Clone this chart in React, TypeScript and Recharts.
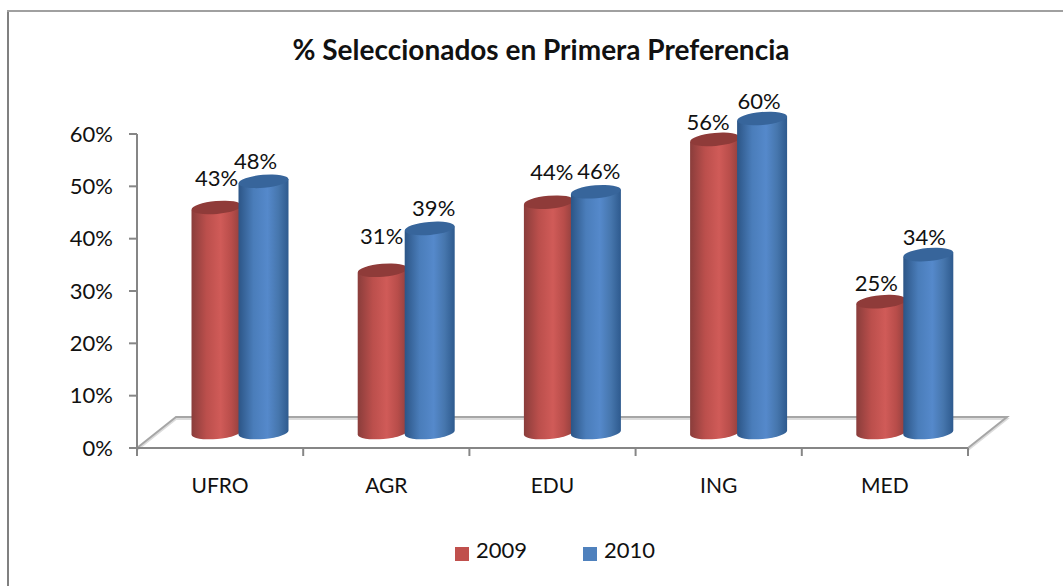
import { BarChart, Bar, XAxis, YAxis, Legend, LabelList, Customized } from "recharts";

const categories = ["UFRO", "AGR", "EDU", "ING", "MED"];
const values2009 = [43, 31, 44, 56, 25];
const values2010 = [48, 39, 46, 60, 34];
const yTicks = [0, 10, 20, 30, 40, 50, 60];

// hand nudges for the data labels, the source places them unevenly
const labelNudge2009 = [[0, -21], [-1, -26], [3, -22], [-7, -9], [-5, -11]];
const labelNudge2010 = [[-8, -12], [4, -12], [3, -13], [-3, -10], [-4, -10]];

const W = 1063;
const H = 586;
const LEFT = 137;
const RIGHT = 968;
const TOP = 134;
const BOTTOM = 448;
const DEPTH_X = 39;
const DEPTH_Y = 31;
const FONT = "Lato, sans-serif";
const AXIS = "#868686";

const data = categories.map((name, i) => ({
  name,
  y2009: values2009[i],
  y2010: values2010[i],
}));

function Cylinder(props: any) {
  const { x, y, width, height, fill } = props;
  const red = fill === "#c0504d";
  const x0 = x + DEPTH_X / 2;
  const cx = x0 + width / 2;
  const rx = width / 2;
  const ry = 6.5;
  const rise = 2.2; // ellipses lean up to the right
  const top = y - DEPTH_Y / 2;
  const bottom = top + height;
  const body = `M${x0},${top + rise} L${x0},${bottom + rise} A${rx},${ry} -5 0 0 ${x0 + width},${bottom - rise} L${x0 + width},${top - rise} Z`;
  return (
    <g>
      <path d={`M${x0 + 8},${bottom + 3} A${rx},${ry} -5 0 0 ${x0 + width - 8},${bottom + 2} L${x0 + width - 8},${bottom} L${x0 + 8},${bottom} Z`} fill={red ? "#e8a8a6" : "#a9c6ea"} transform="translate(0,1.5)" />
      <path d={body} fill={red ? "url(#cylRed)" : "url(#cylBlue)"} />
      <ellipse cx={cx} cy={top} rx={rx} ry={ry} fill={red ? "#8f3b39" : "#37659b"} transform={`rotate(-5 ${cx} ${top})`} />
    </g>
  );
}

function makeLabel(nudge: number[][]) {
  return (props: any) => {
    const { x, y, width, value, index } = props;
    return (
      <text
        x={x + DEPTH_X / 2 + width / 2 + nudge[index][0]}
        y={y - DEPTH_Y / 2 + nudge[index][1]}
        textAnchor="middle"
        fontFamily={FONT}
        fontSize={22}
        fill="#111"
      >
        {value}%
      </text>
    );
  };
}

function XTick(props: any) {
  const { x, y, payload, index } = props;
  const band = (RIGHT - LEFT) / categories.length;
  const tickX = LEFT + band * index;
  return (
    <g>
      <line x1={tickX} x2={tickX} y1={BOTTOM} y2={BOTTOM + 8} stroke={AXIS} strokeWidth={2} />
      {index === categories.length - 1 && (
        <line x1={RIGHT} x2={RIGHT} y1={BOTTOM} y2={BOTTOM + 8} stroke={AXIS} strokeWidth={2} />
      )}
      <text x={x} y={y + 37} textAnchor="middle" fontFamily={FONT} fontSize={21} fill="#111">
        {payload.value}
      </text>
    </g>
  );
}

function Floor() {
  const pts = `${LEFT},${BOTTOM} ${LEFT + DEPTH_X},${BOTTOM - DEPTH_Y} ${RIGHT + DEPTH_X},${BOTTOM - DEPTH_Y} ${RIGHT},${BOTTOM}`;
  return (
    <g>
      <polyline points={pts} transform="translate(0,2)" fill="none" stroke="#dcdcdc" strokeWidth={2} />
      <polyline points={pts} fill="none" stroke="#a6a6a6" strokeWidth={2} />
      <defs>
        <linearGradient id="cylRed" x1="0" x2="1" y1="0" y2="0">
          <stop offset="0%" stopColor="#8a3d3b" />
          <stop offset="30%" stopColor="#bb4f4c" />
          <stop offset="58%" stopColor="#d05b58" />
          <stop offset="80%" stopColor="#b84d4a" />
          <stop offset="100%" stopColor="#8e3f3d" />
        </linearGradient>
        <linearGradient id="cylBlue" x1="0" x2="1" y1="0" y2="0">
          <stop offset="0%" stopColor="#2c5586" />
          <stop offset="30%" stopColor="#4a7dba" />
          <stop offset="58%" stopColor="#5589cb" />
          <stop offset="80%" stopColor="#4676ad" />
          <stop offset="100%" stopColor="#2e5a8e" />
        </linearGradient>
      </defs>
    </g>
  );
}

function Title() {
  return (
    <text x={541} y={60} textAnchor="middle" fontFamily={FONT} fontSize={28} fontWeight={700} fill="#111">
      % Seleccionados en Primera Preferencia
    </text>
  );
}

function legendText(value: string) {
  return (
    <span style={{ color: "#111", fontFamily: FONT, fontSize: 22, marginLeft: 3, marginRight: 46 }}>{value}</span>
  );
}

export default function App() {
  return (
    <div style={{ position: "absolute", left: 0, top: 0, width: W, height: H, overflow: "hidden", background: "#fff" }}>
      <div style={{ position: "absolute", left: 7, top: 10, width: 2, height: 576, background: "#808080" }} />
      <div style={{ position: "absolute", left: 7, top: 10, right: 0, height: 2, background: "#a0a0a0" }} />
      <BarChart
        width={W}
        height={H}
        data={data}
        margin={{ top: TOP, right: W - RIGHT, bottom: 0, left: 0 }}
        barCategoryGap="20%"
        barGap={-3}
        barSize={50}
        style={{ position: "absolute", left: 0, top: 0 }}
      >
        <Customized component={<Floor />} />
        <Customized component={<Title />} />
        <XAxis
          dataKey="name"
          height={H - BOTTOM}
          stroke={AXIS}
          strokeWidth={2}
          tickLine={false}
          tick={<XTick />}
          interval={0}
        />
        <YAxis
          width={LEFT}
          domain={[0, 60]}
          ticks={yTicks}
          tickFormatter={(v: number) => `${v}%`}
          stroke={AXIS}
          strokeWidth={2}
          tickSize={8}
          tickMargin={16}
          tick={{ fontFamily: FONT, fontSize: 22, fill: "#111" }}
        />
        <Legend
          verticalAlign="middle"
          layout="horizontal"
          iconType="square"
          iconSize={14}
          formatter={legendText}
          wrapperStyle={{ left: 433, top: 536, width: 300, textAlign: "left" }}
        />
        <Bar dataKey="y2009" name="2009" fill="#c0504d" shape={<Cylinder />} isAnimationActive={false}>
          <LabelList dataKey="y2009" content={makeLabel(labelNudge2009)} />
        </Bar>
        <Bar dataKey="y2010" name="2010" fill="#4f81bd" shape={<Cylinder />} isAnimationActive={false}>
          <LabelList dataKey="y2010" content={makeLabel(labelNudge2010)} />
        </Bar>
      </BarChart>
    </div>
  );
}
